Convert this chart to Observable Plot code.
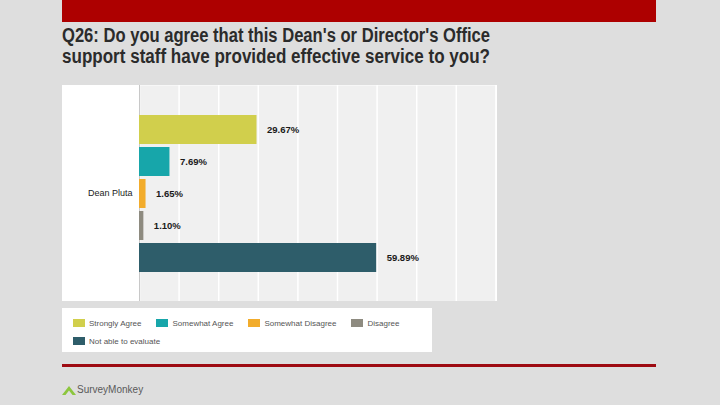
<!DOCTYPE html>
<html><head><meta charset="utf-8">
<script src="https://cdn.jsdelivr.net/npm/d3@7"></script>
<script src="https://cdn.jsdelivr.net/npm/@observablehq/plot@0.6"></script>
<style>
html,body{margin:0;padding:0;}
body{width:720px;height:405px;background:#dedede;position:relative;overflow:hidden;font-family:"Liberation Sans",Arial,sans-serif;}
#topbar{position:absolute;left:62px;top:0;width:594px;height:22px;background:#ad0000;}
#title{position:absolute;left:62px;top:25px;font-family:"Liberation Sans Narrow","Liberation Sans",sans-serif;font-weight:bold;font-size:20px;line-height:21px;color:#2b2b2b;}
#title div{white-space:nowrap;transform-origin:0 0;display:inline-block;}
#chart{position:absolute;left:62px;top:85px;width:435px;height:216px;}
#legend{position:absolute;left:62px;top:308px;width:370px;height:44px;background:#fff;}
.row{position:absolute;left:11px;display:flex;align-items:center;height:10px;}
.item{display:flex;align-items:center;margin-right:15px;font-size:8px;color:#555;white-space:nowrap;}
.sw{width:12px;height:8px;margin-right:4px;}
#bottomline{position:absolute;left:62px;top:364px;width:594px;height:3px;background:#9e0b12;}
#logo{position:absolute;left:62px;top:384px;display:flex;align-items:center;font-size:10px;color:#5a5a5a;}
</style></head>
<body>
<div id="topbar"></div>
<div id="title"></div>
<div id="chart"></div>
<div id="legend"></div>
<div id="bottomline"></div>
<div id="logo"><svg width="14" height="10" viewBox="0 0 14 10"><path d="M0 10 L7 1 L14 10 L10.5 10 L7 5.5 L3.5 10 Z" fill="#8cc63e"/></svg><span style="margin-left:1px">SurveyMonkey</span></div>
<script>
const titleLines = ["Q26: Do you agree that this Dean's or Director's Office", "support staff have provided effective service to you?"];
const responses = ["Strongly Agree", "Somewhat Agree", "Somewhat Disagree", "Disagree", "Not able to evaluate"];
const percents = [29.67, 7.69, 1.65, 1.10, 59.89];
const colors = ["#d1cf4c", "#17a6aa", "#f2ac2c", "#8e8b80", "#2e5d6a"];
const groupLabel = ["Dean Pluta"];
const xTicks = [0, 10, 20, 30, 40, 50, 60, 70, 80, 90];
const legendRows = [[0, 1, 2, 3], [4]];

// title
const titleEl = document.getElementById("title");
titleLines.forEach(t => {
  const d = document.createElement("div");
  d.textContent = t;
  titleEl.appendChild(d);
  titleEl.appendChild(document.createElement("br"));
});
titleEl.querySelectorAll("div").forEach(d => {
  const w = d.getBoundingClientRect().width;
  d.style.transform = `scaleX(${428 / w})`;
});

const data = responses.map((r, i) => ({response: r, pct: percents[i]}));

const chart = Plot.plot({
  width: 435, height: 216,
  marginLeft: 77, marginRight: 1.6, marginTop: 0, marginBottom: 0,
  style: {background: "#fff", fontFamily: "Liberation Sans, Arial, sans-serif"},
  x: {domain: [0, 90], axis: null},
  y: {domain: responses, axis: null, paddingInner: 0.1, paddingOuter: 0.823},
  color: {domain: responses, range: colors},
  marks: [
    Plot.frame({fill: "#f0f0f0", stroke: null}),
    Plot.gridX(xTicks, {stroke: "#ffffff", strokeOpacity: 1, strokeWidth: 1.5}),
    Plot.ruleX([0], {stroke: "#c8c8c8"}),
    Plot.barX(data, {x: "pct", y: "response", fill: "response"}),
    Plot.text(data, {x: "pct", y: "response", text: d => d.pct.toFixed(2) + "%", dx: 10, textAnchor: "start", fontWeight: "bold", fontSize: 9.5, fill: "#1a1a1a"}),
    Plot.text(groupLabel, {frameAnchor: "left", text: d => d, dx: -7, textAnchor: "end", fontSize: 9, fill: "#222"})
  ]
});
document.getElementById("chart").appendChild(chart);

// legend
const legendEl = document.getElementById("legend");
legendRows.forEach((row, ri) => {
  const r = document.createElement("div");
  r.className = "row";
  r.style.top = (10 + ri * 18) + "px";
  row.forEach(i => {
    const it = document.createElement("div");
    it.className = "item";
    it.innerHTML = `<span class="sw" style="background:${colors[i]}"></span><span>${responses[i]}</span>`;
    r.appendChild(it);
  });
  legendEl.appendChild(r);
});
</script>
</body></html>
